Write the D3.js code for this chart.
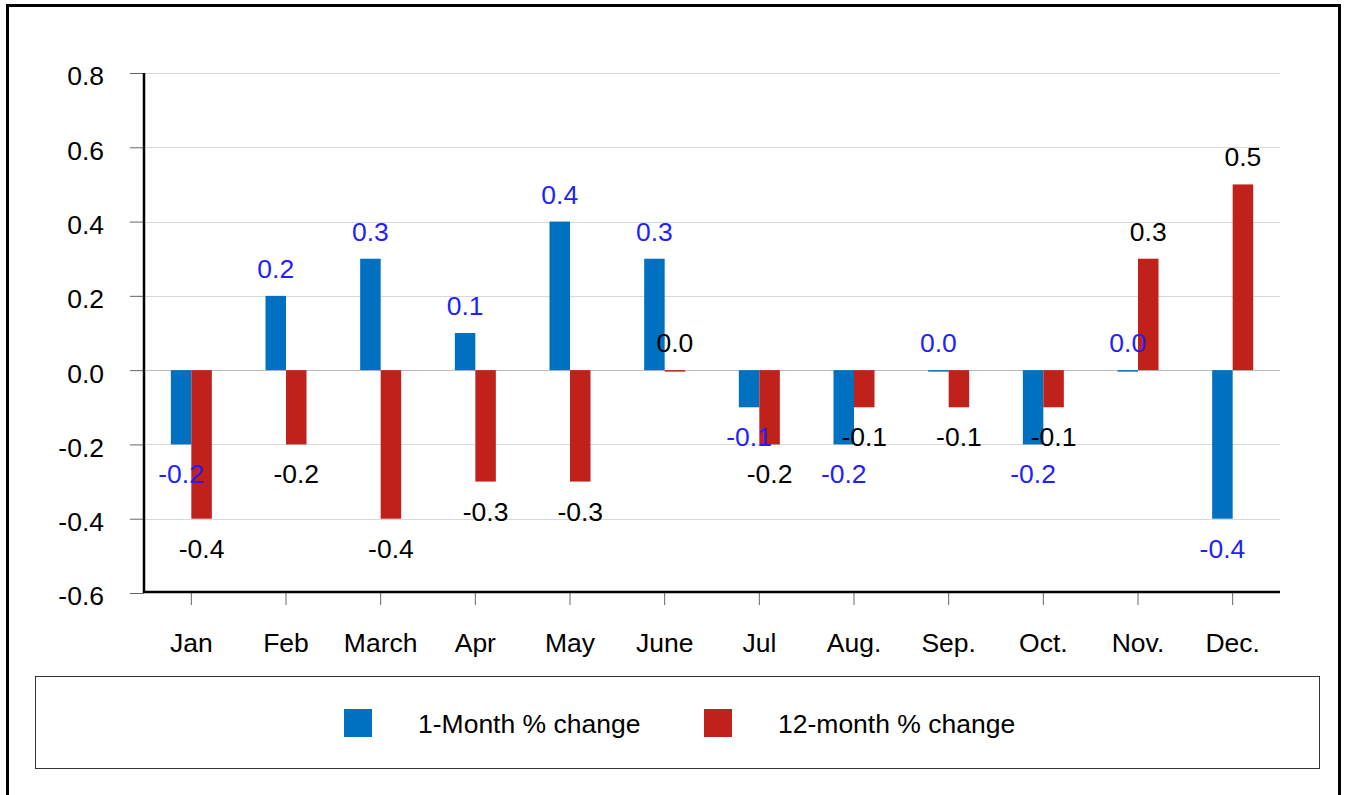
<!DOCTYPE html>
<html>
<head>
<meta charset="utf-8">
<script src="https://cdn.jsdelivr.net/npm/d3@7"></script>
<style>
  html, body { margin: 0; padding: 0; background: #fff; }
  svg { display: block; font-family: "Liberation Sans", Arial, sans-serif; }
</style>
</head>
<body>
<svg id="chart" width="1349" height="795"></svg>
<script>
// Monthly price change figures (percent)
const months = ["Jan", "Feb", "March", "Apr", "May", "June", "Jul", "Aug.", "Sep.", "Oct.", "Nov.", "Dec."];
const oneMonth = [-0.2, 0.2, 0.3, 0.1, 0.4, 0.3, -0.1, -0.2, 0.0, -0.2, 0.0, -0.4];
const twelveMonth = [-0.4, -0.2, -0.4, -0.3, -0.3, 0.0, -0.2, -0.1, -0.1, -0.1, 0.3, 0.5];
const yTicks = [-0.6, -0.4, -0.2, 0.0, 0.2, 0.4, 0.6, 0.8];
const seriesNames = ["1-Month % change", "12-month % change"];

const colors = ["#0070c0", "#c0211a"];
const labelColors = ["#1f1fff", "#000000"];

// plain hyphen for negative numbers
const locale = d3.formatLocale({ decimal: ".", thousands: ",", grouping: [3], currency: ["$", ""], minus: "-" });
const fmt = locale.format(".1f");

const svg = d3.select("#chart");

// outer frame
svg.append("rect")
  .attr("x", 7.5).attr("y", 5.5)
  .attr("width", 1332).attr("height", 800)
  .attr("fill", "none").attr("stroke", "#000").attr("stroke-width", 3);

const plot = { left: 144, right: 1280, top: 73, bottom: 593 };

const x = d3.scaleBand().domain(months).range([plot.left, plot.right]).padding(0);
const y = d3.scaleLinear().domain([-0.6, 0.8]).range([plot.bottom, plot.top]);
const barW = 20.5;
const xs = d3.scaleOrdinal().domain([0, 1]).range([-barW, 0]);

// horizontal grid
svg.append("g").selectAll("line")
  .data(yTicks.filter(t => t > -0.6))
  .join("line")
  .attr("x1", plot.left).attr("x2", plot.right)
  .attr("y1", d => Math.round(y(d)) + 0.5).attr("y2", d => Math.round(y(d)) + 0.5)
  .attr("stroke", d => d === 0 ? "#bdbdbd" : "#d9d9d9")
  .attr("stroke-width", 1);

// y axis
const yAxis = svg.append("g").attr("transform", `translate(${plot.left},0)`)
  .call(d3.axisLeft(y).tickValues(yTicks).tickFormat(fmt).tickSize(14).tickPadding(26));
yAxis.select(".domain").remove();
yAxis.selectAll(".tick line").attr("stroke", "#666");
yAxis.selectAll(".tick text")
  .attr("font-size", 26.5).attr("fill", "#000")
  .attr("font-family", "Liberation Sans, Arial, sans-serif")
  .attr("dy", "0.45em");

// x axis
const xAxis = svg.append("g").attr("transform", `translate(0,${plot.bottom})`)
  .call(d3.axisBottom(x).tickSize(12).tickPadding(28));
xAxis.select(".domain").remove();
xAxis.selectAll(".tick line").attr("stroke", "#666");
xAxis.selectAll(".tick text")
  .attr("font-size", 26.5).attr("fill", "#000")
  .attr("font-family", "Liberation Sans, Arial, sans-serif");

// bars
const series = [oneMonth, twelveMonth];
series.forEach((vals, si) => {
  svg.append("g").selectAll("rect")
    .data(vals)
    .join("rect")
    .attr("x", (d, i) => x(months[i]) + x.bandwidth() / 2 + xs(si))
    .attr("width", barW)
    .attr("y", d => d >= 0 ? y(d) : y(0))
    .attr("height", d => Math.max(1.5, Math.abs(y(d) - y(0))))
    .attr("fill", colors[si]);
});

// axis lines
svg.append("line")
  .attr("x1", plot.left).attr("x2", plot.left)
  .attr("y1", plot.top).attr("y2", plot.bottom)
  .attr("stroke", "#000").attr("stroke-width", 2.5);
svg.append("line")
  .attr("x1", plot.left).attr("x2", plot.right)
  .attr("y1", plot.bottom - 1).attr("y2", plot.bottom - 1)
  .attr("stroke", "#000").attr("stroke-width", 2.5);

// value labels
series.forEach((vals, si) => {
  svg.append("g").selectAll("text")
    .data(vals)
    .join("text")
    .attr("x", (d, i) => x(months[i]) + x.bandwidth() / 2 + xs(si) + barW / 2)
    .attr("y", d => d >= 0 ? y(d) - 18 : y(d) + 39)
    .attr("text-anchor", "middle")
    .attr("font-size", 26.5)
    .attr("fill", labelColors[si])
    .text(d => fmt(d));
});

// legend
const legend = svg.append("g");
legend.append("rect")
  .attr("x", 35.5).attr("y", 676.5).attr("width", 1284).attr("height", 92)
  .attr("fill", "none").attr("stroke", "#333").attr("stroke-width", 1);
const legendX = [344, 704];
seriesNames.forEach((name, i) => {
  legend.append("rect")
    .attr("x", legendX[i]).attr("y", 709).attr("width", 28).attr("height", 28)
    .attr("fill", colors[i]);
  legend.append("text")
    .attr("x", legendX[i] + 74).attr("y", 733)
    .attr("font-size", 26.5).attr("fill", "#000")
    .text(name);
});
</script>
</body>
</html>
